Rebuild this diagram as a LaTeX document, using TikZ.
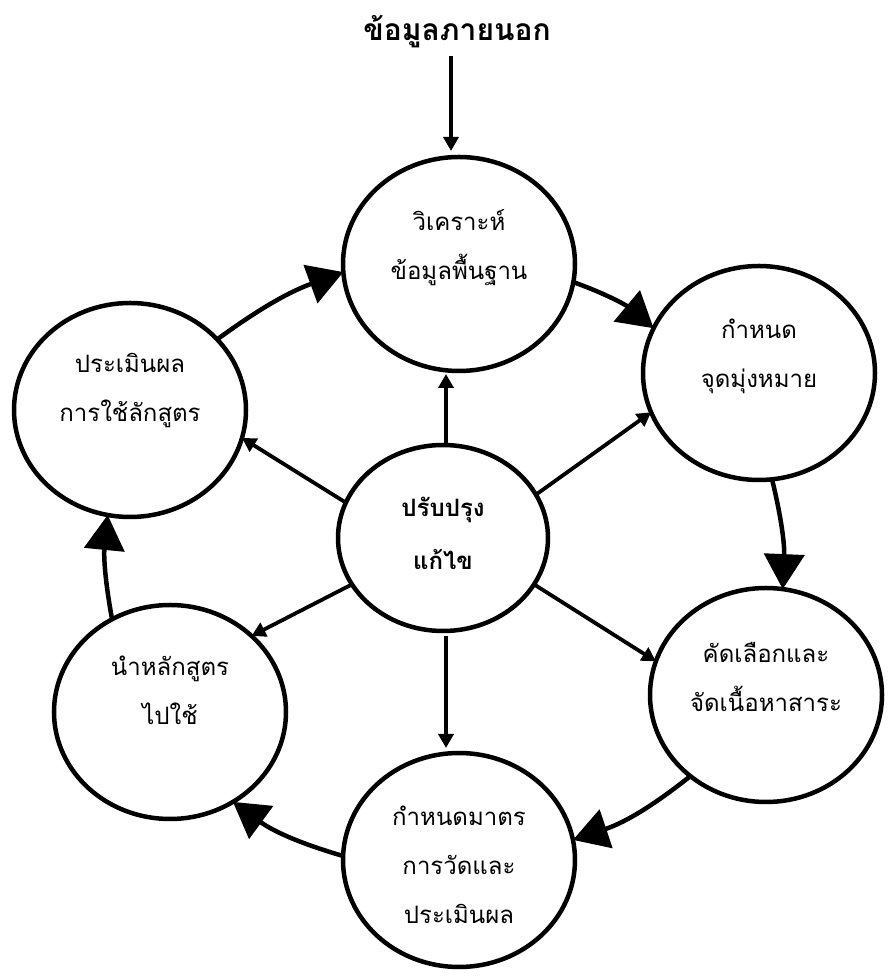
\documentclass[tikz,border=0pt]{standalone}
\usepackage{fontspec}
\newfontfamily\thaifont[Script=Thai]{Loma}
\usetikzlibrary{arrows.meta,shapes.geometric,calc}
\begin{document}
\begin{tikzpicture}[x=1pt,y=1pt,
  circ/.style={ellipse, draw, line width=4.5pt, minimum width=232pt, minimum height=214pt, inner sep=0pt, outer sep=0pt},
  midc/.style={ellipse, draw, line width=4.5pt, minimum width=210pt, minimum height=186pt, inner sep=0pt, outer sep=0pt},
  txt/.style={align=center, font=\thaifont\fontsize{24}{49}\selectfont, inner sep=0pt},
  btxt/.style={align=center, font=\thaifont\bfseries\fontsize{24}{53}\selectfont, inner sep=0pt},
  ttl/.style={font=\thaifont\bfseries\fontsize{30}{36}\selectfont, inner sep=0pt},
  spoke/.style={-{Triangle[length=14pt,width=15pt]}, line width=3.8pt},
  cyc/.style={-{Triangle[length=35pt,width=40pt]}, line width=4.5pt},
]
\useasboundingbox (0,0) rectangle (889,978);
% circles
\node[circ] (A) at (459,714) {};
\node[circ] (B) at (759,605) {};
\node[circ] (C) at (766,283) {};
\node[circ] (D) at (459,118) {};
\node[circ] (E) at (170,266) {};
\node[circ] (F) at (130,568) {};
\node[midc] (O) at (443,440) {};
% texts
\node[ttl] (T) at (457,946) {ข้อมูลภายนอก};
\node[txt] (tA) at ($(A.center)+(0,16)$) {วิเคราะห์\\ข้อมูลพื้นฐาน};
\node[txt] (tB) at ($(B.center)+(0,17)$) {กำหนด\\จุดมุ่งหมาย};
\node[txt] (tC) at ($(C.center)+(0,18)$) {คัดเลือกและ\\จัดเนื้อหาสาระ};
\node[txt] (tD) at ($(D.center)+(0,-5)$) {กำหนดมาตร\\การวัดและ\\ประเมินผล};
\node[txt] (tE) at ($(E.center)+(0,22)$) {นำหลักสูตร\\ไปใช้};
\node[txt] (tF) at ($(F.center)+(0,19)$) {ประเมินผล\\การใช้ลักสูตร};
\node[btxt] (tO) at ($(O.center)+(0,5)$) {ปรับปรุง\\แก้ไข};
% input arrow
\draw[spoke] ($(T.south)+(-6,-8)$) -- ($(A.north)+(-8,6)$);
% spokes
\draw[spoke] ($(O.north)+(3,0)$) -- ($(O.north |- A.south)+(3,-3)$);
\draw[spoke] ($(O.south)+(3,-5)$) -- ($(O.south |- D.north)+(3,5)$);
\draw[spoke] (O.25) -- (B.200);
\draw[spoke] (O.160) -- (F.346);
\draw[spoke] (O.207) -- (E.43);
\draw[spoke] (O.333) -- (C.163);
% cycle
\draw[cyc] (F.39) to[bend left=8] (A.184);
\draw[cyc] (A.351) to[bend left=10] (B.157);
\draw[cyc] (B.277) to[bend left=8] (C.81);
\draw[cyc] (C.227) to[bend left=10] (D.10);
\draw[cyc] (D.178) to[bend left=10] (E.305);
\draw[cyc] (E.122) to[bend left=8] (F.258);
\end{tikzpicture}
\end{document}
